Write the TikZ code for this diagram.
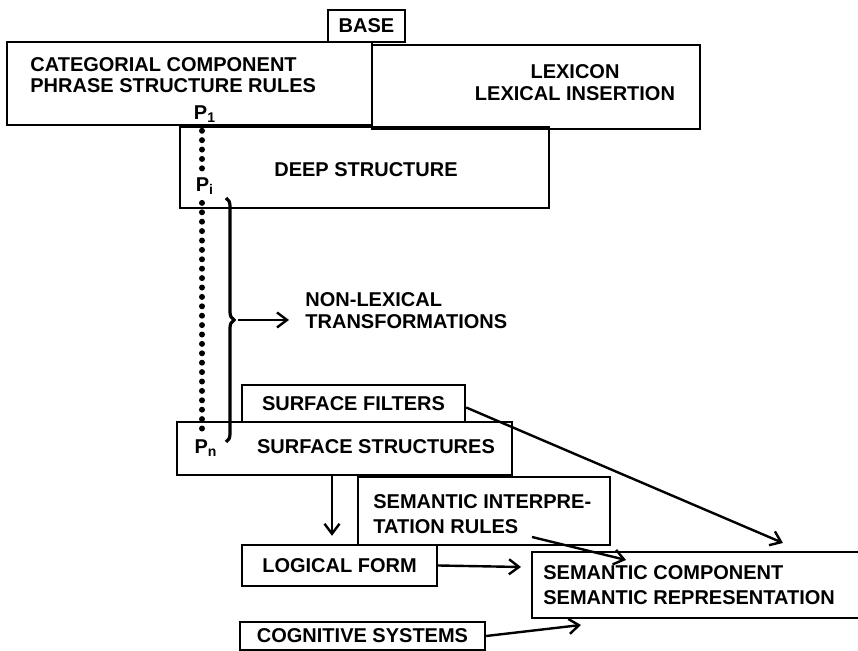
\documentclass[tikz,border=0pt]{standalone}
\usepackage{fontspec}
\setmainfont{Liberation Sans}
\usetikzlibrary{arrows.meta,decorations.pathreplacing}
\begin{document}
\begin{tikzpicture}[x=0.5pt,y=-0.5pt,
  every node/.style={font=\bfseries\fontsize{10}{11}\selectfont, inner sep=0pt},
  box/.style={draw, line width=1.2pt, rectangle, inner sep=0pt},
  lbl/.style={align=left, anchor=west},
  arr/.style={line width=1.2pt, -{Straight Barb[length=5pt,width=7.5pt,line width=1.2pt]}},
  dotline/.style={line width=3pt, line cap=round, dash pattern=on 0pt off 4.7pt}]
\clip (0,0) rectangle (858,651);
% top boxes
\node[box, minimum width=38.5pt, minimum height=16pt] (base) at (366.5,26) {BASE};
\node[box, minimum width=182.5pt, minimum height=41.5pt] (cat) at (189.5,83.5) {};
\node[lbl, font=\bfseries\fontsize{10}{10.5}\selectfont] (catlbl) at (30,75) {CATEGORIAL COMPONENT\\PHRASE STRUCTURE RULES};
\node[box, minimum width=164pt, minimum height=42pt] (lex) at (536,87) {};
\node[align=center] (lexlbl) at (575,83) {LEXICON\\LEXICAL INSERTION};
\node[box, minimum width=184.5pt, minimum height=40.5pt] (deep) at (364.5,167.5) {};
\node (deeplbl) at (366,170) {DEEP STRUCTURE};
% P labels and dots
\node (p1) at (205,114) {P\textsubscript{1}};
\node (pi) at (205,186) {P\textsubscript{i}};
\node (pn) at (206,448) {P\textsubscript{n}};
\draw[dotline] ([xshift=-1.5pt,yshift=-4pt]p1.south) -- ([xshift=-1.5pt,yshift=2pt]pi.north);
\draw[dotline] ([xshift=-1.5pt,yshift=-4pt]pi.south) -- ([xshift=-2pt,yshift=3pt]pn.north);
% brace
\coordinate (brtop) at (226,198);
\coordinate (brbot) at (226,442);
\draw[decorate, decoration={brace, amplitude=4pt}, line width=1.6pt] (brtop) -- (brbot);
\coordinate (brtip) at (238,320);
\coordinate (nlend) at (289,320);
\draw[arr] (brtip) -- (nlend);
\node[lbl] (nllbl) at (305,311) {NON-LEXICAL\\TRANSFORMATIONS};
% surface
\node[box, minimum width=111.5pt, minimum height=18.5pt] (sfilt) at (353.5,403.5) {SURFACE FILTERS};
\node[box, minimum width=167.5pt, minimum height=26.5pt] (sstruct) at (344.5,448.5) {};
\node (sslbl) at (376,447) {SURFACE STRUCTURES};
% semantic
\node[box, minimum width=126pt, minimum height=34pt] (semint) at (484,511) {};
\node[lbl, font=\bfseries\fontsize{10}{12.5}\selectfont] (semintlbl) at (373,514.5) {SEMANTIC INTERPRE-\\TATION RULES};
\node[box, minimum width=97.5pt, minimum height=20.5pt] (logical) at (339.5,565.5) {LOGICAL FORM};
\node[box, minimum width=169pt, minimum height=33pt] (semcomp) at (701,585) {};
\node[lbl, font=\bfseries\fontsize{10}{12.5}\selectfont] (semcomplbl) at (543,585.5) {SEMANTIC COMPONENT\\SEMANTIC REPRESENTATION};
\node[box, minimum width=122.5pt, minimum height=14pt] (cog) at (362.5,636) {COGNITIVE SYSTEMS};
% arrows
\coordinate (ax) at (332,0);
\draw[arr, shorten >=4pt] (sstruct.south -| ax) -- (logical.north -| ax);
\coordinate (sfend) at (783,543);
\draw[arr] ([yshift=-2pt]sfilt.east) -- (sfend);
\coordinate (sistart) at (532,537);
\coordinate (siend) at (626,560);
\draw[arr] (sistart) -- (siend);
\coordinate (lfend) at (521,567);
\draw[arr] (logical.east) -- (lfend);
\coordinate (cgend) at (581,625);
\draw[arr] (cog.east) -- (cgend);
\end{tikzpicture}
\end{document}
